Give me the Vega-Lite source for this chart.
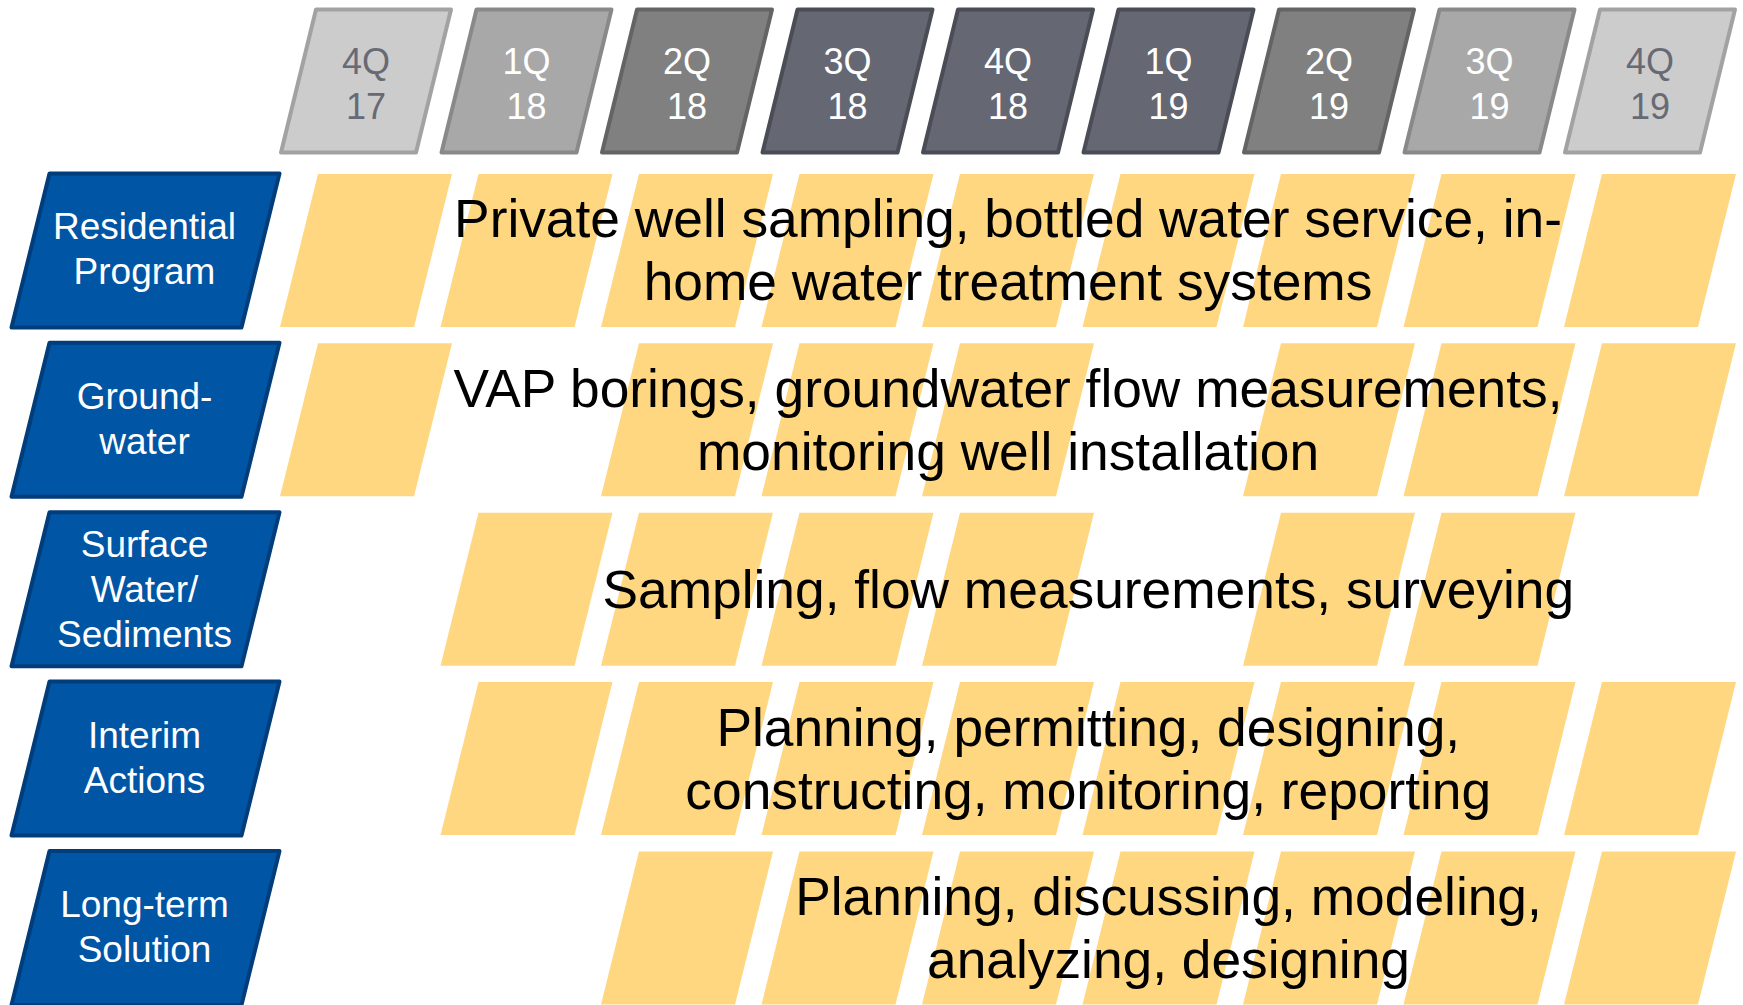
{
  "$schema": "https://vega.github.io/schema/vega-lite/v6.json",
  "padding": 0,
  "spacing": 0,
  "bounds": "flush",
  "background": "white",
  "config": {"view": {"stroke": null}, "font": "Liberation Sans"},
  "datasets": {
    "streams": [
      {"stream": "Residential Program", "label": "Residential\nProgram"},
      {"stream": "Groundwater", "label": "Ground-\nwater"},
      {"stream": "Surface Water/Sediments", "label": "Surface\nWater/\nSediments"},
      {"stream": "Interim Actions", "label": "Interim\nActions"},
      {"stream": "Long-term Solution", "label": "Long-term\nSolution"}
    ],
    "quarters": [
      {"stream": "Timeline", "i": 0, "quarter": "4Q\n17"},
      {"stream": "Timeline", "i": 1, "quarter": "1Q\n18"},
      {"stream": "Timeline", "i": 2, "quarter": "2Q\n18"},
      {"stream": "Timeline", "i": 3, "quarter": "3Q\n18"},
      {"stream": "Timeline", "i": 4, "quarter": "4Q\n18"},
      {"stream": "Timeline", "i": 5, "quarter": "1Q\n19"},
      {"stream": "Timeline", "i": 6, "quarter": "2Q\n19"},
      {"stream": "Timeline", "i": 7, "quarter": "3Q\n19"},
      {"stream": "Timeline", "i": 8, "quarter": "4Q\n19"}
    ],
    "activity": [
      {"stream": "Residential Program", "i": 0},
      {"stream": "Residential Program", "i": 1},
      {"stream": "Residential Program", "i": 2},
      {"stream": "Residential Program", "i": 3},
      {"stream": "Residential Program", "i": 4},
      {"stream": "Residential Program", "i": 5},
      {"stream": "Residential Program", "i": 6},
      {"stream": "Residential Program", "i": 7},
      {"stream": "Residential Program", "i": 8},
      {"stream": "Groundwater", "i": 0},
      {"stream": "Groundwater", "i": 2},
      {"stream": "Groundwater", "i": 3},
      {"stream": "Groundwater", "i": 4},
      {"stream": "Groundwater", "i": 6},
      {"stream": "Groundwater", "i": 7},
      {"stream": "Groundwater", "i": 8},
      {"stream": "Surface Water/Sediments", "i": 1},
      {"stream": "Surface Water/Sediments", "i": 2},
      {"stream": "Surface Water/Sediments", "i": 3},
      {"stream": "Surface Water/Sediments", "i": 4},
      {"stream": "Surface Water/Sediments", "i": 6},
      {"stream": "Surface Water/Sediments", "i": 7},
      {"stream": "Interim Actions", "i": 1},
      {"stream": "Interim Actions", "i": 2},
      {"stream": "Interim Actions", "i": 3},
      {"stream": "Interim Actions", "i": 4},
      {"stream": "Interim Actions", "i": 5},
      {"stream": "Interim Actions", "i": 6},
      {"stream": "Interim Actions", "i": 7},
      {"stream": "Interim Actions", "i": 8},
      {"stream": "Long-term Solution", "i": 2},
      {"stream": "Long-term Solution", "i": 3},
      {"stream": "Long-term Solution", "i": 4},
      {"stream": "Long-term Solution", "i": 5},
      {"stream": "Long-term Solution", "i": 6},
      {"stream": "Long-term Solution", "i": 7},
      {"stream": "Long-term Solution", "i": 8}
    ],
    "notes": [
      {"stream": "Residential Program", "mid": 4, "note": "Private well sampling, bottled water service, in-\nhome water treatment systems"},
      {"stream": "Groundwater", "mid": 4, "note": "VAP borings, groundwater flow measurements,\nmonitoring well installation"},
      {"stream": "Surface Water/Sediments", "mid": 4.5, "note": "Sampling, flow measurements, surveying"},
      {"stream": "Interim Actions", "mid": 4.5, "note": "Planning, permitting, designing,\nconstructing, monitoring, reporting"},
      {"stream": "Long-term Solution", "mid": 5, "note": "Planning, discussing, modeling,\nanalyzing, designing"}
    ]
  },
  "hconcat": [
    {
      "width": 291,
      "height": 1005,
      "data": {"name": "streams"},
      "encoding": {
        "y": {"field": "stream", "type": "nominal", "axis": null, "scale": {"type": "point", "domain": ["Timeline", "Residential Program", "Groundwater", "Surface Water/Sediments", "Interim Actions", "Long-term Solution"], "range": [81, 928], "padding": 0}}
      },
      "layer": [
        {
          "mark": {"type": "point", "shape": "M -96 -77 L 134 -77 L 96 77 L -134 77 Z", "size": 4, "filled": true, "opacity": 1, "fill": "#0055A5", "stroke": "#003D7A", "strokeWidth": 4, "strokeJoin": "round"}
        },
        {
          "transform": [{"filter": "datum.stream != 'Surface Water/Sediments'"}],
          "mark": {"type": "text", "color": "white", "fontSize": 37, "lineHeight": 45, "lineBreak": "\n", "align": "center", "baseline": "middle", "dx": -1, "dy": -22},
          "encoding": {"text": {"field": "label"}}
        },
        {
          "transform": [{"filter": "datum.stream == 'Surface Water/Sediments'"}],
          "mark": {"type": "text", "color": "white", "fontSize": 37, "lineHeight": 45, "lineBreak": "\n", "align": "center", "baseline": "middle", "dx": -1, "dy": -43},
          "encoding": {"text": {"field": "label"}}
        }
      ]
    },
    {
      "width": 1452,
      "height": 1005,
      "encoding": {
        "y": {"field": "stream", "type": "nominal", "axis": null, "scale": {"type": "point", "domain": ["Timeline", "Residential Program", "Groundwater", "Surface Water/Sediments", "Interim Actions", "Long-term Solution"], "range": [81, 928], "padding": 0}}
      },
      "layer": [
        {
          "data": {"name": "quarters"},
          "mark": {"type": "point", "shape": "M -50 -71.5 L 85 -71.5 L 50 71.5 L -85 71.5 Z", "size": 4, "filled": true, "opacity": 1, "strokeWidth": 4, "strokeJoin": "round"},
          "encoding": {
            "x": {"field": "i", "type": "quantitative", "axis": null, "scale": {"domain": [-0.4673, 8.5794], "nice": false, "zero": false}},
            "color": {"condition": [
              {"test": "datum.i == 0 || datum.i == 8", "value": "#CCCCCC"},
              {"test": "datum.i == 1 || datum.i == 7", "value": "#A8A8A8"},
              {"test": "datum.i == 2 || datum.i == 6", "value": "#808080"}
            ], "value": "#656872"},
            "stroke": {"condition": [
              {"test": "datum.i == 0 || datum.i == 8", "value": "#A2A2A2"},
              {"test": "datum.i == 1 || datum.i == 7", "value": "#898989"},
              {"test": "datum.i == 2 || datum.i == 6", "value": "#646464"}
            ], "value": "#4A4D56"}
          }
        },
        {
          "data": {"name": "quarters"},
          "mark": {"type": "text", "fontSize": 36, "lineHeight": 45, "lineBreak": "\n", "align": "center", "baseline": "middle", "dy": -18},
          "encoding": {
            "x": {"field": "i", "type": "quantitative"},
            "text": {"field": "quarter"},
            "color": {"condition": {"test": "datum.i == 0 || datum.i == 8", "value": "#676A75"}, "value": "#FFFFFF"}
          }
        },
        {
          "data": {"name": "activity"},
          "mark": {"type": "point", "shape": "M -48 -76.5 L 86 -76.5 L 48 76.5 L -86 76.5 Z", "size": 4, "filled": true, "opacity": 1, "fill": "#FFD780", "strokeWidth": 0},
          "encoding": {
            "x": {"field": "i", "type": "quantitative"}
          }
        },
        {
          "data": {"name": "notes"},
          "transform": [{"filter": "indexof(datum.note, '\\n') >= 0"}],
          "mark": {"type": "text", "fontSize": 53.3, "lineHeight": 63, "lineBreak": "\n", "align": "center", "baseline": "middle", "color": "#000000", "dy": -29},
          "encoding": {
            "x": {"field": "mid", "type": "quantitative"},
            "text": {"field": "note"}
          }
        },
        {
          "data": {"name": "notes"},
          "transform": [{"filter": "indexof(datum.note, '\\n') < 0"}],
          "mark": {"type": "text", "fontSize": 53.3, "lineHeight": 63, "lineBreak": "\n", "align": "center", "baseline": "middle", "color": "#000000", "dy": 3},
          "encoding": {
            "x": {"field": "mid", "type": "quantitative"},
            "text": {"field": "note"}
          }
        }
      ]
    }
  ]
}
